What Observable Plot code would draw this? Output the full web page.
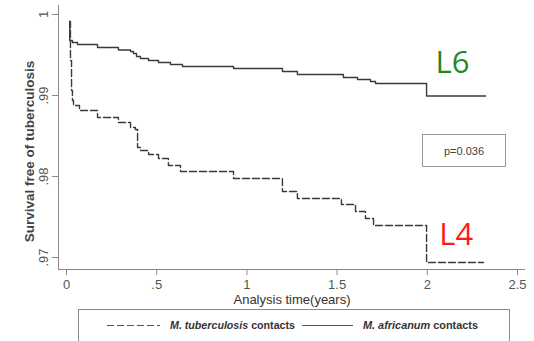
<!DOCTYPE html>
<html><head><meta charset="utf-8">
<script src="https://cdn.jsdelivr.net/npm/d3@7"></script>
<script src="https://cdn.jsdelivr.net/npm/@observablehq/plot@0.6"></script>
<style>
body{margin:0;background:#fff;width:534px;height:341px;overflow:hidden;position:relative;font-family:"Liberation Sans",Arial,sans-serif}
#chart{position:absolute;left:0;top:0}
#pbox{position:absolute;left:422px;top:134px;width:84px;height:33px;border:1px solid #9a9a9a;box-sizing:border-box;display:flex;align-items:center;justify-content:center;font-size:11px;color:#444}
#legend{position:absolute;left:0;top:0}
</style></head><body>
<div id="chart"></div>
<div id="pbox"></div>
<svg id="legend" width="534" height="341"></svg>
<script>
// M. tuberculosis contacts (L4) — Kaplan-Meier steps
const tbTime = [0.017, 0.022, 0.028, 0.033, 0.039, 0.072, 0.172, 0.288, 0.355, 0.382, 0.394, 0.410, 0.455, 0.510, 0.565, 0.632, 0.926, 1.197, 1.280, 1.524, 1.602, 1.657, 1.702, 1.996, 2.312];
const tbSurv = [0.99914, 0.9943, 0.99062, 0.98938, 0.98877, 0.98815, 0.98728, 0.98667, 0.98605, 0.98580, 0.98358, 0.98321, 0.98272, 0.98222, 0.98136, 0.98062, 0.97975, 0.97815, 0.97728, 0.97654, 0.97568, 0.97481, 0.97395, 0.96938, 0.96938];
// M. africanum contacts (L6)
const afTime = [0.017, 0.018, 0.033, 0.061, 0.172, 0.288, 0.355, 0.371, 0.388, 0.410, 0.455, 0.510, 0.576, 0.643, 0.926, 1.197, 1.280, 1.535, 1.613, 1.685, 1.713, 1.996, 2.323];
const afSurv = [0.99914, 0.99679, 0.99654, 0.99630, 0.99593, 0.99562, 0.99543, 0.99519, 0.99481, 0.99457, 0.99432, 0.99407, 0.99383, 0.99358, 0.99333, 0.99296, 0.99259, 0.99222, 0.99198, 0.99173, 0.99148, 0.98994, 0.98994];

const xTicks = [0, 0.5, 1, 1.5, 2, 2.5];
const xTickLabels = ["0", ".5", "1", "1.5", "2", "2.5"];
const yTicks = [0.97, 0.98, 0.99, 1];
const yTickLabels = [".97", ".98", ".99", "1"];
const xDomain = [-0.0443, 2.5444];
const yDomain = [0.96852, 1.00111];

const seriesItalic = ["M. tuberculosis", "M. africanum"];
const seriesSuffix = " contacts";
const annText = ["L6", "L4"];
const annT = [2.14, 2.16];
const annS = [0.99395, 0.97272];
const annColor = ["#1f8a1f", "#ff1a1a"];
const pText = "p=0.036";

const tb = tbTime.map((t, i) => ({t, s: tbSurv[i]}));
const af = afTime.map((t, i) => ({t, s: afSurv[i]}));
const ann = annText.map((txt, i) => ({txt, t: annT[i], s: annS[i], c: annColor[i]}));

const axisGray = "#8a8a8a";
const plot = Plot.plot({
  width: 534, height: 308,
  marginLeft: 58, marginRight: 9, marginTop: 5, marginBottom: 39,
  x: {domain: xDomain},
  y: {domain: yDomain},
  style: {fontFamily: '"Liberation Sans", Arial, sans-serif', background: "transparent", color: "#555"},
  marks: [
    Plot.ruleX([xDomain[0]], {stroke: axisGray}),
    Plot.ruleY([yDomain[0]], {stroke: axisGray}),
    Plot.axisX({ticks: xTicks, tickFormat: d => xTickLabels[xTicks.indexOf(d)], tickSize: 6, tickPadding: 4, fontSize: 13, label: null, stroke: axisGray, fill: "#555"}),
    Plot.axisY({ticks: yTicks, tickSize: 6, tickFormat: () => "", label: null, stroke: axisGray}),
    Plot.text(yTicks, {y: d => d, frameAnchor: "left", text: (d, i) => yTickLabels[i], rotate: -90, dx: -15, fontSize: 13, fill: "#555", textAnchor: "middle", lineAnchor: "middle"}),
    Plot.text(["Survival free of tuberculosis"], {text: d => d, frameAnchor: "left", dx: -29, dy: 14, rotate: -90, fontWeight: "bold", fontSize: 13.5, fill: "#444", textAnchor: "middle", lineAnchor: "middle"}),
    Plot.text(["Analysis time(years)"], {text: d => d, frameAnchor: "bottom", dy: 30, fontSize: 13, fill: "#333", textAnchor: "middle", lineAnchor: "middle"}),
    Plot.line(af, {x: "t", y: "s", curve: "step-after", stroke: "#3a3a3a", strokeWidth: 1.4}),
    Plot.line(tb, {x: "t", y: "s", curve: "step-after", stroke: "#3a3a3a", strokeWidth: 1.4, strokeDasharray: "7,3"}),
    Plot.text(ann, {x: "t", y: "s", text: "txt", fill: "c", fontSize: 31, fontFamily: '"Open Sans", sans-serif', textAnchor: "middle", lineAnchor: "middle"})
  ]
});
document.getElementById("chart").appendChild(plot);
document.getElementById("pbox").textContent = pText;

// legend below the plot
const lg = d3.select("#legend");
lg.append("rect").attr("x", 78.5).attr("y", 309.5).attr("width", 431).attr("height", 60).attr("fill", "none").attr("stroke", "#8a8a8a");
const items = [
  {x1: 107, x2: 160, tx: 170, tl: 125, dash: "7,3"},
  {x1: 302, x2: 353, tx: 363, tl: 115, dash: null}
];
items.forEach((it, i) => {
  lg.append("line").attr("x1", it.x1).attr("x2", it.x2).attr("y1", 325.5).attr("y2", 325.5)
    .attr("stroke", "#555").attr("stroke-width", 1).attr("stroke-dasharray", it.dash);
  const t = lg.append("text").attr("x", it.tx).attr("y", 329).attr("font-size", 10).attr("font-weight", "bold")
    .attr("fill", "#333").attr("textLength", it.tl).attr("lengthAdjust", "spacingAndGlyphs");
  t.append("tspan").attr("font-style", "italic").text(seriesItalic[i]);
  t.append("tspan").text(seriesSuffix);
});
</script>
</body></html>
